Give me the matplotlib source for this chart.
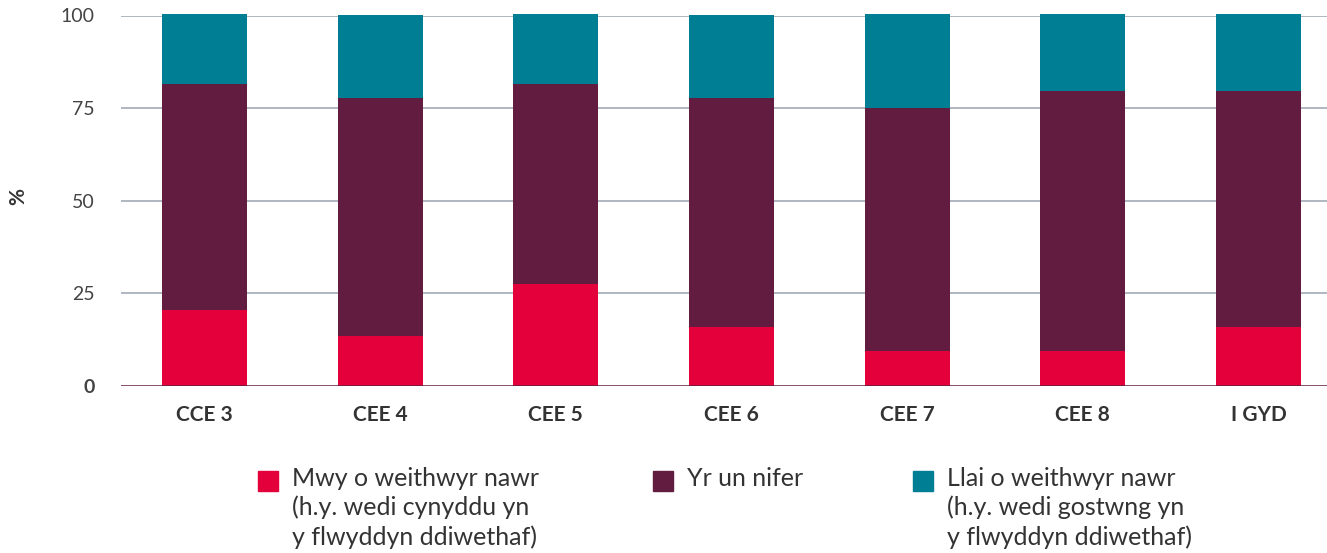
#!/usr/bin/env python

import numpy as np
import matplotlib
matplotlib.use('Agg')
import matplotlib.pyplot as plt
from matplotlib.patches import Rectangle

# data (%)
categories = ['CCE 3', 'CEE 4', 'CEE 5', 'CEE 6', 'CEE 7', 'CEE 8', 'I GYD']
more_workers = [20.5, 13.5, 27.5, 15.9, 9.4, 9.4, 15.9]
same_number = [61.0, 64.2, 54.0, 61.8, 65.6, 70.2, 63.7]
fewer_workers = [18.9, 22.4, 18.9, 22.4, 25.3, 20.8, 20.8]

series_names = ['Mwy o weithwyr nawr\n(h.y. wedi cynyddu yn\ny flwyddyn ddiwethaf)',
                'Yr un nifer',
                'Llai o weithwyr nawr\n(h.y. wedi gostwng yn\ny flwyddyn ddiwethaf)']
colours = ['#E4003B', '#621C40', '#007F94']
yticks = [0, 25, 50, 75, 100]

plt.rcParams['font.family'] = ['Lato', 'DejaVu Sans']
text_col = '#333333'

fig = plt.figure(figsize=(13.27, 5.53), dpi=100)
ax = fig.add_axes([121/1327, 1-386/553, 1-121/1327, 370.5/553])

x = np.arange(len(categories))
width = 0.484
bottom = np.zeros(len(categories))
for vals, col in zip([more_workers, same_number, fewer_workers], colours):
    ax.bar(x, vals, width, bottom=bottom, color=col, zorder=3, clip_on=False)
    bottom += np.array(vals)

# gridlines and baseline
for t in yticks[1:]:
    ax.axhline(t, color='#A9B1BC', linewidth=1.3, zorder=1)
ax.axhline(0, color='#621C40', linewidth=1.8, zorder=4)

ax.set_xlim(-0.475, 6.39)
ax.set_ylim(0, 100)
ax.set_yticks(yticks)
ax.set_yticklabels([str(t) for t in yticks], fontsize=14, color='#444444')
for lab in ax.get_yticklabels():
    lab.set_fontweight('bold' if lab.get_text() == '0' else 'normal')
ax.set_xticks(x)
ax.set_xticklabels(categories, fontsize=15, fontweight='bold', color=text_col)
ax.tick_params(axis='y', length=0, pad=19)
ax.tick_params(axis='x', length=0, pad=14)
for s in ax.spines.values():
    s.set_visible(False)

fig.text(18/1327, 1-197/553, '%', rotation=90, fontsize=15, fontweight='bold',
         color=text_col, ha='center', va='center')

# legend drawn by hand
leg_x = [258, 653, 913]
for lx, name, col in zip(leg_x, series_names, colours):
    fig.patches.append(Rectangle((lx/1327, 1-491/553), 20/1327, 20/553,
                                 transform=fig.transFigure, color=col))
    fig.text((lx+34)/1327, 1-467/553, name, fontsize=18, color=text_col,
             ha='left', va='top', linespacing=1.3)

fig.savefig('out.png', dpi=100)
